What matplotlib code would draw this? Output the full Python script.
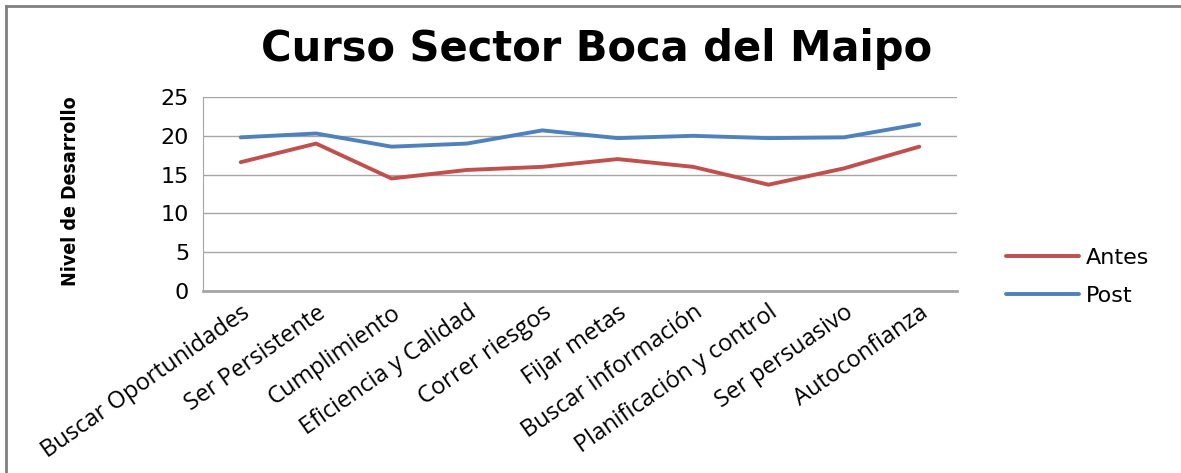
import matplotlib
matplotlib.use("Agg")
import matplotlib.pyplot as plt
from matplotlib.lines import Line2D

categories = ["Buscar Oportunidades", "Ser Persistente", "Cumplimiento",
              "Eficiencia y Calidad", "Correr riesgos", "Fijar metas",
              "Buscar información", "Planificación y control",
              "Ser persuasivo", "Autoconfianza"]
antes = [16.6, 19.0, 14.5, 15.6, 16.0, 17.0, 16.0, 13.7, 15.8, 18.6]
post = [19.8, 20.3, 18.6, 19.0, 20.7, 19.7, 20.0, 19.7, 19.8, 21.5]
yticks = [0, 5, 10, 15, 20, 25]

fig = plt.figure(figsize=(11.81, 4.73), dpi=100)
ax = fig.add_axes([0.1719, 0.3848, 0.6384, 0.4101])

x = list(range(len(categories)))
ax.plot(x, antes, color="#C0504D", lw=2.8, label="Antes", solid_capstyle="round")
ax.plot(x, post, color="#4F81BD", lw=2.8, label="Post", solid_capstyle="round")

ax.set_xlim(-0.5, len(categories) - 0.5)
ax.set_ylim(0, 25)
ax.set_yticks(yticks)
ax.set_yticklabels([str(v) for v in yticks], fontsize=16, family="DejaVu Sans")
ax.yaxis.grid(True, color="#A6A6A6", lw=1.0)
ax.set_axisbelow(True)
ax.tick_params(axis="both", length=0)
ax.tick_params(axis="y", pad=10)
ax.set_xticks(x)
ax.set_xticklabels(categories, rotation=35, ha="right", va="top",
                   rotation_mode="anchor", fontsize=17, family="Open Sans")
ax.tick_params(axis="x", pad=7)
for s in ["top", "right"]:
    ax.spines[s].set_visible(False)
ax.spines["left"].set_color("#A6A6A6")
ax.spines["bottom"].set_color("#A6A6A6")
ax.spines["bottom"].set_linewidth(2)

fig.text(0.505, 0.897, "Curso Sector Boca del Maipo", ha="center", va="center",
         fontsize=30, fontweight="bold", family="DejaVu Sans")
fig.text(0.06, 0.595, "Nivel de Desarrollo", rotation=90, ha="center", va="center",
         fontsize=14, fontweight="bold", family="DejaVu Sans", fontstretch="condensed")

leg = fig.legend(loc="center left", bbox_to_anchor=(0.835, 0.415), frameon=False,
                 prop={"family": "DejaVu Sans", "size": 16},
                 handlelength=3.3, labelspacing=0.8, handletextpad=0.3)
for l in leg.get_lines():
    l.set_linewidth(2.8)

# chart frame: only left and top edges visible
fig.add_artist(Line2D([6 / 1181, 6 / 1181], [0, 1 - 6 / 473], transform=fig.transFigure,
                      color="#808080", lw=2))
fig.add_artist(Line2D([6 / 1181, 1], [1 - 6 / 473, 1 - 6 / 473], transform=fig.transFigure,
                      color="#808080", lw=2))

fig.savefig("out.png", dpi=100, facecolor="white")
